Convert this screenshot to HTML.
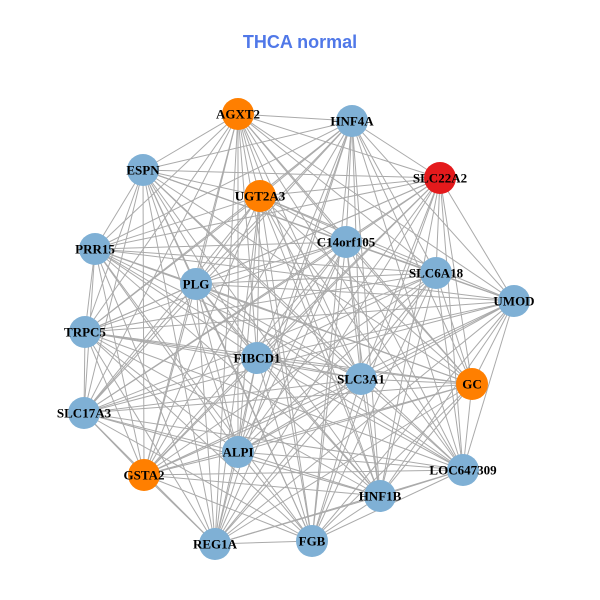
<!DOCTYPE html>
<html><head><meta charset="utf-8"><style>
html,body{margin:0;padding:0;background:#fff;}
svg{display:block;}
text.l{font-family:"Liberation Serif",serif;font-weight:bold;font-size:13px;fill:#000;text-anchor:middle;dominant-baseline:central;}
</style></head><body>
<svg id="s" width="600" height="600" viewBox="0 0 600 600">
<rect width="600" height="600" fill="#fff"/>
<text x="300" y="42" text-anchor="middle" dominant-baseline="central" font-family="Liberation Sans,sans-serif" font-weight="bold" font-size="18" fill="#5078e8">THCA normal</text>
<g id="edges" stroke="#aaaaaa" stroke-width="1"></g>
<g id="nodes">
<circle cx="238" cy="114" r="16" fill="#ff7f00"/>
<circle cx="352" cy="121" r="16" fill="#7fb0d5"/>
<circle cx="143" cy="170" r="16" fill="#7fb0d5"/>
<circle cx="260" cy="196" r="16" fill="#ff7f00"/>
<circle cx="440" cy="178" r="16" fill="#e41a1c"/>
<circle cx="346" cy="242" r="16" fill="#7fb0d5"/>
<circle cx="95" cy="249" r="16" fill="#7fb0d5"/>
<circle cx="436" cy="273" r="16" fill="#7fb0d5"/>
<circle cx="196" cy="284" r="16" fill="#7fb0d5"/>
<circle cx="514" cy="301" r="16" fill="#7fb0d5"/>
<circle cx="85" cy="332" r="16" fill="#7fb0d5"/>
<circle cx="257" cy="358" r="16" fill="#7fb0d5"/>
<circle cx="361" cy="379" r="16" fill="#7fb0d5"/>
<circle cx="472" cy="384" r="16" fill="#ff7f00"/>
<circle cx="84" cy="413" r="16" fill="#7fb0d5"/>
<circle cx="238" cy="452" r="16" fill="#7fb0d5"/>
<circle cx="144" cy="475" r="16" fill="#ff7f00"/>
<circle cx="463" cy="470" r="16" fill="#7fb0d5"/>
<circle cx="380" cy="496" r="16" fill="#7fb0d5"/>
<circle cx="215" cy="544" r="16" fill="#7fb0d5"/>
<circle cx="312" cy="541" r="16" fill="#7fb0d5"/>
</g>
<g>
<text class="l" x="238" y="114">AGXT2</text>
<text class="l" x="352" y="121">HNF4A</text>
<text class="l" x="143" y="170">ESPN</text>
<text class="l" x="260" y="196">UGT2A3</text>
<text class="l" x="440" y="178">SLC22A2</text>
<text class="l" x="346" y="242">C14orf105</text>
<text class="l" x="95" y="249">PRR15</text>
<text class="l" x="436" y="273">SLC6A18</text>
<text class="l" x="196" y="284">PLG</text>
<text class="l" x="514" y="301">UMOD</text>
<text class="l" x="85" y="332">TRPC5</text>
<text class="l" x="257" y="358">FIBCD1</text>
<text class="l" x="361" y="379">SLC3A1</text>
<text class="l" x="472" y="384">GC</text>
<text class="l" x="84" y="413">SLC17A3</text>
<text class="l" x="238" y="452">ALPI</text>
<text class="l" x="144" y="475">GSTA2</text>
<text class="l" x="463" y="470">LOC647309</text>
<text class="l" x="380" y="496">HNF1B</text>
<text class="l" x="215" y="544">REG1A</text>
<text class="l" x="312" y="541">FGB</text>
</g>
</svg>
<script>
var cs=document.querySelectorAll('#nodes circle'),p=[];
cs.forEach(function(c){p.push([+c.getAttribute('cx'),+c.getAttribute('cy')]);});
var g=document.getElementById('edges'),ns='http://www.w3.org/2000/svg';
for(var i=0;i<p.length;i++)for(var j=i+1;j<p.length;j++){
var l=document.createElementNS(ns,'line');
l.setAttribute('x1',p[i][0]);l.setAttribute('y1',p[i][1]);
l.setAttribute('x2',p[j][0]);l.setAttribute('y2',p[j][1]);
g.appendChild(l);}
</script>
</body></html>
